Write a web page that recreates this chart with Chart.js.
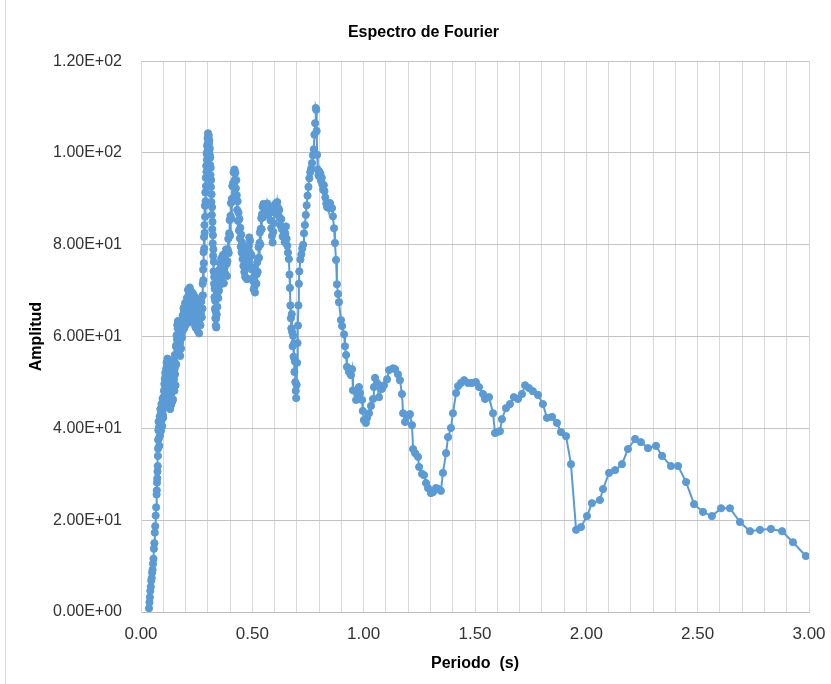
<!DOCTYPE html>
<html lang="es">
<head>
    <meta charset="UTF-8">
    <title>Espectro de Fourier</title>
    <script src="https://cdn.jsdelivr.net/npm/chart.js@4.4.2/dist/chart.umd.min.js"></script>
    <style>
        html, body {
            margin: 0;
            padding: 0;
            background: #fff;
        }
        .chart-box {
            position: relative;
            width: 831px;
            height: 684px;
        }
    </style>
</head>
<body>
    <div class="chart-box">
        <canvas id="fourierChart" width="831" height="684"></canvas>
    </div>

    <script>
        // --- Data (one line per stretch of the curve) ---
        const periods = [
            0.036,0.038,0.040,0.042,0.044,0.046,0.048,0.050,0.052,0.054,0.056,0.058,0.060,0.062,0.064,0.066,0.068,0.070,0.071,0.072,0.073,0.074,0.075,0.076,0.0765,0.077,0.078,
            0.079,0.080,0.081,0.082,0.083,0.084,0.085,0.086,0.087,0.088,0.089,0.090,0.091,0.092,0.093,0.094,0.095,0.096,0.097,0.098,0.099,0.100,
            0.101,0.102,0.103,0.104,0.105,0.106,0.107,0.108,0.109,0.110,0.111,0.112,0.113,0.114,0.115,0.116,0.117,0.118,0.119,0.120,0.121,0.122,0.123,0.124,0.125,
            0.126,0.127,0.128,0.129,0.130,0.131,0.132,0.133,0.134,0.135,0.136,0.137,0.138,0.140,0.141,0.142,0.143,0.144,0.146,0.147,0.148,0.150,0.151,0.152,0.153,0.155,0.156,0.157,
            0.158,0.159,0.160,0.161,0.162,0.163,0.164,0.165,0.166,0.167,0.168,0.169,0.170,0.171,0.172,0.174,0.175,0.176,0.177,0.179,0.180,0.181,0.183,0.184,0.185,0.187,0.188,0.189,0.191,0.192,
            0.193,0.195,0.196,0.198,0.199,0.201,0.203,0.204,0.206,0.207,0.209,0.211,0.212,0.214,0.216,0.217,0.219,0.221,0.223,0.224,0.226,0.228,0.230,0.231,0.233,0.235,0.237,0.239,0.241,0.243,0.245,0.247,0.249,0.251,0.253,0.255,0.257,0.259,0.261,0.263,0.265,0.267,0.269,0.271,
            0.273,0.275,0.276,0.277,0.278,0.279,0.280,0.281,0.282,0.283,0.284,0.285,0.286,0.287,0.288,0.289,0.290,0.291,0.292,0.293,0.294,0.295,0.296,0.297,0.298,0.299,0.300,0.301,0.302,0.303,0.304,0.305,0.306,0.307,0.308,0.309,
            0.310,0.311,0.312,0.313,0.314,0.315,0.316,0.317,0.318,0.319,0.320,0.321,0.322,0.323,0.324,0.325,0.326,0.327,0.328,0.329,0.330,0.331,0.332,0.333,0.334,0.335,0.336,0.337,0.338,
            0.340,0.342,0.343,0.345,0.347,0.349,0.350,0.352,0.354,0.356,0.358,0.360,0.362,0.364,0.366,0.368,0.370,0.372,0.374,0.376,0.378,0.380,0.382,0.384,0.386,0.388,
            0.390,0.392,0.394,0.396,0.398,0.400,0.402,0.404,0.406,0.408,0.410,0.412,0.414,0.416,0.418,0.420,0.422,0.424,0.426,0.428,
            0.430,0.432,0.434,0.436,0.438,0.440,0.442,0.444,0.446,0.448,0.450,0.452,0.454,0.456,0.458,0.460,0.462,0.464,0.466,0.468,
            0.470,0.472,0.474,0.476,0.478,0.480,0.482,0.484,0.486,0.488,0.490,0.492,0.494,0.496,0.498,0.500,0.502,0.504,0.506,0.508,
            0.510,0.512,0.514,0.516,0.518,0.520,0.522,0.524,0.526,0.528,0.530,0.532,0.534,0.536,0.538,0.540,0.542,0.544,0.546,0.548,0.550,
            0.552,0.555,0.558,0.561,0.564,0.567,0.570,0.573,0.576,0.579,0.582,0.585,0.588,0.591,0.594,0.597,0.600,0.603,0.606,0.609,0.612,0.615,0.618,0.621,0.624,0.627,0.630,0.633,0.636,0.639,0.642,0.645,0.648,0.651,0.654,0.657,
            0.660,0.664,0.667,0.669,0.671,0.673,0.675,0.677,0.679,0.681,0.683,0.685,0.687,0.689,0.691,0.693,0.695,0.697,0.699,0.701,0.703,0.705,0.707,0.709,0.711,
            0.716,0.720,0.724,0.728,0.732,0.736,0.740,0.744,0.748,0.752,0.756,0.760,0.764,0.768,0.772,0.776,0.779,0.782,0.785,0.787,
            0.789,0.791,0.794,0.797,0.800,0.803,0.806,0.809,0.812,0.815,0.818,0.821,0.824,0.828,0.832,0.836,0.840,0.844,0.849,0.858,0.862,0.867,0.871,0.876,0.880,0.885,0.889,0.898,0.903,0.912,0.916,0.921,0.925,0.934,0.943,0.948,0.952,0.966,0.970,0.979,0.984,0.993,0.996,1.001,1.010,1.015,1.024,
            1.033,1.042,1.046,1.051,1.060,1.069,1.082,1.091,1.105,1.114,1.132,1.141,1.154,1.163,1.172,1.177,1.186,1.195,1.208,1.217,
            1.222,1.231,1.244,1.249,1.262,1.271,1.280,1.289,1.302,1.311,1.325,1.334,1.347,1.356,1.370,1.379,1.392,1.401,1.415,1.424,
            1.437,1.451,1.469,1.487,1.504,1.518,1.536,1.545,1.563,1.581,1.590,1.599,1.612,1.621,1.639,1.657,1.675,1.693,1.711,1.725,
            1.742,1.760,1.783,1.805,1.823,1.846,1.868,1.886,1.909,1.931,1.954,1.976,2.003,2.025,2.061,2.075,2.102,2.129,2.160,2.187,
            2.219,2.245,2.277,2.313,2.340,2.380,2.412,2.448,2.484,2.524,2.564,2.605,2.645,2.690,2.735,2.780,2.829,2.879,2.928,2.986
        ];

        const amplitudes = [
            0.8,2.1,3.2,4.6,5.5,6.8,7.4,8.6,9.2,10.5,11.6,13.8,15.0,17.3,18.7,21.0,22.8,25.6,26.5,28.2,29.1,30.6,31.8,34.0,35.6,37.5,39.6,
            41.5,37.8,40.3,36.2,39.8,42.6,38.4,41.0,44.2,40.6,43.1,39.5,42.0,45.3,41.8,44.0,40.5,43.6,46.5,43.0,45.8,42.4,
            46.8,44.5,48.2,45.6,49.7,47.0,50.8,47.9,52.1,49.0,51.5,48.3,53.0,50.2,54.3,51.1,48.6,53.6,55.2,50.4,54.6,49.8,46.5,51.3,47.2,
            44.8,48.9,45.9,50.6,46.7,44.2,48.0,51.7,47.4,45.1,49.3,52.4,48.1,45.8,50.2,53.5,49.0,46.3,51.0,54.8,50.6,48.2,52.9,56.0,51.8,49.4,54.1,58.0,
            53.9,57.6,60.3,56.2,59.4,62.5,58.7,61.8,63.4,59.5,62.8,57.8,60.7,56.9,59.9,62.3,58.5,55.8,59.2,61.6,57.4,60.4,63.0,59.8,62.1,64.6,61.3,63.7,66.2,62.5,
            65.4,61.9,64.8,67.3,63.6,66.5,62.7,65.2,68.4,64.9,67.6,70.2,66.3,69.1,65.5,68.0,70.7,67.2,64.4,67.9,69.8,66.0,63.2,66.6,69.4,65.7,62.9,66.1,68.7,64.8,62.0,65.3,67.8,63.9,61.4,64.6,66.9,63.0,60.7,63.8,66.2,62.5,65.0,67.7,
            64.2,68.8,66.1,71.5,69.0,74.6,72.3,78.4,76.0,81.7,79.2,84.3,82.6,88.5,86.1,91.4,89.5,94.6,92.8,97.2,95.9,99.8,98.5,101.6,100.4,103.2,102.0,104.3,103.5,101.8,103.9,102.2,100.6,102.8,99.7,101.0,
            97.4,99.0,95.2,96.8,92.6,94.1,89.3,91.0,86.5,88.2,83.4,85.0,80.3,82.1,77.6,79.0,74.2,76.3,71.5,73.0,68.6,70.4,66.1,67.8,64.0,65.5,62.4,63.9,62.0,
            64.8,69.3,66.5,71.8,68.4,73.1,70.0,74.6,71.2,75.9,72.5,77.0,74.6,71.9,75.2,77.8,74.0,71.6,74.8,77.4,73.7,76.5,79.0,75.8,73.2,76.4,
            78.9,81.3,78.2,82.5,85.4,82.0,86.3,89.1,85.7,90.0,92.8,89.6,93.5,95.8,93.0,96.4,94.2,95.7,92.3,94.1,
            90.8,87.6,89.5,85.2,87.0,83.1,85.6,81.4,83.7,79.6,82.2,78.3,80.5,76.9,79.2,75.4,77.8,74.1,76.5,73.0,
            75.6,78.4,75.0,72.5,75.9,78.9,76.1,79.8,81.6,78.4,80.9,77.5,75.2,77.8,74.6,72.7,75.0,72.1,70.3,72.8,
            71.0,69.6,71.8,74.0,71.5,73.6,76.2,74.1,77.0,79.5,77.2,80.4,82.7,80.1,83.5,85.8,83.4,86.7,88.3,86.0,88.9,
            86.5,88.4,86.9,88.7,87.3,89.0,88.2,86.6,88.5,87.1,85.3,83.6,81.9,80.5,82.8,84.7,87.0,88.4,89.1,88.0,89.3,88.1,86.4,87.6,85.8,84.2,85.6,83.4,81.8,83.9,82.3,80.6,82.5,84.0,81.3,79.8,
            78.3,76.9,73.5,70.6,66.8,64.0,61.8,64.9,61.0,57.9,60.2,55.6,58.4,52.3,54.6,50.1,48.2,46.6,49.5,54.3,58.6,62.4,66.8,71.5,74.2,
            76.8,77.9,79.2,80.0,82.5,84.3,86.5,88.6,90.7,92.6,94.5,95.8,96.6,97.8,99.5,100.8,104.0,106.5,109.8,109.4,
            104.8,99.6,96.4,95.1,96.0,94.8,95.5,93.9,94.6,93.1,92.0,93.0,91.7,90.3,89.0,88.2,88.8,88.0,89.1,88.0,86.2,83.6,80.4,76.7,71.4,69.3,67.5,63.6,62.3,60.5,57.9,56.0,53.4,52.3,51.6,52.9,48.3,46.2,47.7,49.0,47.7,46.2,43.8,41.8,41.2,42.3,43.3,
            44.9,46.4,49.0,51.0,49.9,46.8,48.6,49.4,50.7,52.7,53.1,52.9,51.8,50.5,47.5,43.3,41.4,42.7,43.1,40.7,
            35.5,34.6,33.8,31.6,30.1,29.8,28.1,27.0,25.9,26.1,27.0,26.8,26.4,30.3,34.6,38.1,40.1,43.3,47.7,49.2,
            49.9,50.5,49.9,49.9,50.1,49.0,47.5,46.4,46.8,43.3,39.0,39.2,39.4,42.0,44.4,45.3,46.8,46.4,47.5,49.4,
            48.8,48.1,47.3,45.3,42.3,42.5,41.2,39.2,38.3,32.2,17.9,18.5,20.9,23.7,24.4,26.8,30.3,30.9,32.2,35.5,
            37.7,37.0,35.7,36.2,34.0,31.8,31.8,28.3,23.5,21.8,20.9,22.6,22.6,19.6,17.6,17.9,18.1,17.6,15.2,12.2
        ];

        // axis settings
        const xMin = 0, xMax = 3, xStep = 0.1, xLabelEvery = 0.5;
        const yMin = 0, yMax = 120, yStep = 20;

        // --- Helpers ---
        // Excel style scientific label, e.g. 1.20E+02
        function sciLabel(v) {
            if (v === 0) return '0.00E+00';
            const exp = Math.floor(Math.log10(Math.abs(v)));
            const mant = (v / Math.pow(10, exp)).toFixed(2);
            const sign = exp < 0 ? '-' : '+';
            return mant + 'E' + sign + String(Math.abs(exp)).padStart(2, '0');
        }

        const n = Math.min(periods.length, amplitudes.length);
        const points = [];
        for (let i = 0; i < n; i++) {
            points.push({ x: periods[i], y: amplitudes[i] });
        }

        // thin grey frame on the left like the exported chart area
        const frame = {
            id: 'frame',
            beforeDraw(chart) {
                const ctx = chart.ctx;
                ctx.save();
                ctx.fillStyle = '#fff';
                ctx.fillRect(0, 0, chart.width, chart.height);
                ctx.strokeStyle = '#d9d9d9';
                ctx.lineWidth = 1;
                ctx.beginPath();
                ctx.moveTo(5.5, 0);
                ctx.lineTo(5.5, chart.height);
                ctx.stroke();
                ctx.restore();
            }
        };

        const blue = '#5B9BD5';
        const textColor = '#333';

        new Chart(document.getElementById('fourierChart'), {
            type: 'scatter',
            data: {
                datasets: [{
                    label: 'Amplitud',
                    data: points,
                    showLine: true,
                    borderColor: blue,
                    borderWidth: 2,
                    backgroundColor: blue,
                    pointRadius: 3.6,
                    pointBorderWidth: 1,
                    pointBorderColor: blue,
                    pointBackgroundColor: blue
                }]
            },
            options: {
                responsive: false,
                animation: false,
                layout: {
                    // left padding pushes the chart title to the right, like the original
                    padding: { left: 38, right: 22, top: 0, bottom: 0 }
                },
                plugins: {
                    legend: { display: false },
                    tooltip: { enabled: false },
                    title: {
                        display: true,
                        text: 'Espectro de Fourier',
                        color: '#000',
                        font: { family: 'Liberation Sans', size: 16, weight: 'bold' },
                        padding: { top: 23, bottom: 19 }
                    }
                },
                scales: {
                    x: {
                        type: 'linear',
                        min: xMin,
                        max: xMax,
                        afterFit(scale) { scale.height = 72; },
                        grid: { color: '#d9d9d9', drawTicks: true, tickLength: 12, tickColor: 'rgba(0,0,0,0)' },
                        border: { color: '#bfbfbf' },
                        ticks: {
                            stepSize: xStep,
                            autoSkip: false,
                            maxRotation: 0,
                            padding: 0,
                            color: textColor,
                            font: { family: 'Liberation Sans', size: 17 },
                            callback: function(v) {
                                const k = v / xLabelEvery;
                                return Math.abs(k - Math.round(k)) < 1e-6 ? v.toFixed(2) : '';
                            }
                        },
                        title: {
                            display: true,
                            text: 'Periodo  (s)',
                            color: '#000',
                            font: { family: 'Liberation Sans', size: 16, weight: 'bold' },
                            padding: { top: 0, bottom: 11 }
                        }
                    },
                    y: {
                        min: yMin,
                        max: yMax,
                        afterFit(scale) { scale.width = 103; },
                        grid: { color: '#c4c4c4', drawTicks: true, tickLength: 19, tickColor: 'rgba(0,0,0,0)' },
                        border: { color: '#d9d9d9' },
                        ticks: {
                            stepSize: yStep,
                            padding: 0,
                            color: textColor,
                            font: { family: 'Liberation Sans', size: 16 },
                            callback: v => sciLabel(v)
                        },
                        title: {
                            display: true,
                            text: 'Amplitud',
                            color: '#000',
                            font: { family: 'Liberation Sans', size: 16, weight: 'bold' },
                            padding: { top: -10.6, bottom: 0 }
                        }
                    }
                }
            },
            plugins: [frame]
        });
    </script>
</body>
</html>
